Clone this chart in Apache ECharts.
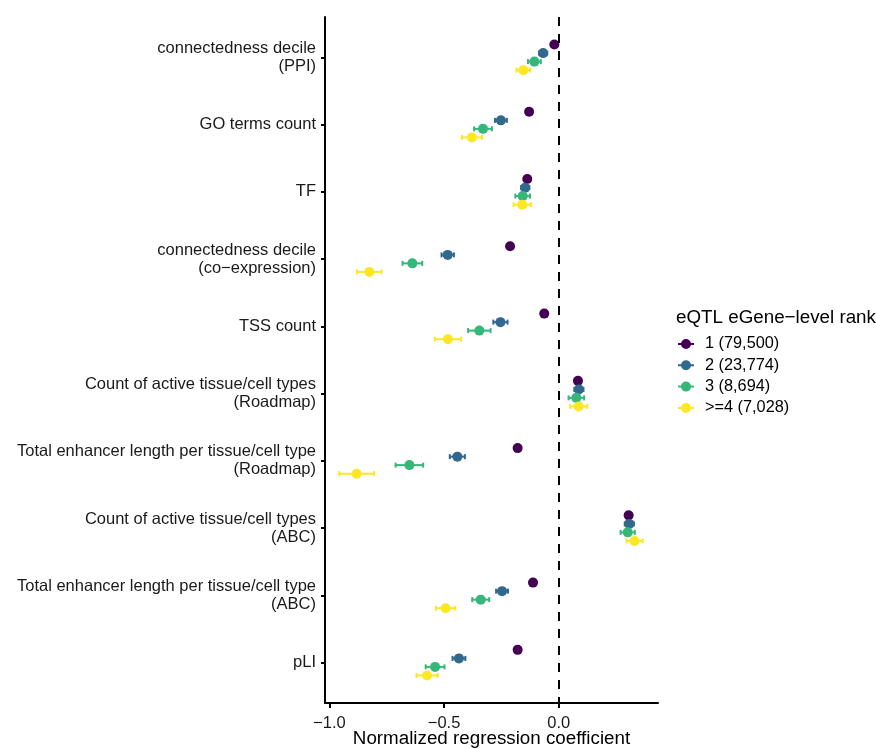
<!DOCTYPE html>
<html>
<head>
<meta charset="utf-8">
<script src="https://cdn.jsdelivr.net/npm/echarts@6/dist/echarts.min.js"></script>
<style>html,body{margin:0;padding:0;background:#fff}#c{width:876px;height:749px}</style>
</head>
<body>
<div id="c"></div>
<script>
// Categories (top to bottom)
var categories = [
  'connectedness decile\n(PPI)',
  'GO terms count',
  'TF',
  'connectedness decile\n(co\u2212expression)',
  'TSS count',
  'Count of active tissue/cell types\n(Roadmap)',
  'Total enhancer length per tissue/cell type\n(Roadmap)',
  'Count of active tissue/cell types\n(ABC)',
  'Total enhancer length per tissue/cell type\n(ABC)',
  'pLI'
];
var rankNames = ['1 (79,500)', '2 (23,774)', '3 (8,694)', '>=4 (7,028)'];
var rankColors = ['#440154', '#31688E', '#35B779', '#FDE725'];

// Coefficients (estimates) per rank
var coef_r1 = [-0.019, -0.129, -0.137, -0.212, -0.063, 0.084, -0.179, 0.305, -0.112, -0.179];
var coef_r2 = [-0.068, -0.252, -0.146, -0.484, -0.254, 0.088, -0.442, 0.308, -0.247, -0.435];
var coef_r3 = [-0.106, -0.330, -0.157, -0.638, -0.346, 0.077, -0.651, 0.301, -0.340, -0.539];
var coef_r4 = [-0.154, -0.378, -0.159, -0.826, -0.483, 0.087, -0.881, 0.331, -0.493, -0.574];
// Error half-widths (CI) per rank
var err_r1 = [0.008, 0.008, 0.008, 0.008, 0.008, 0.008, 0.008, 0.008, 0.008, 0.008];
var err_r2 = [0.018, 0.026, 0.018, 0.027, 0.031, 0.020, 0.033, 0.020, 0.026, 0.028];
var err_r3 = [0.028, 0.039, 0.032, 0.043, 0.049, 0.034, 0.060, 0.031, 0.037, 0.041];
var err_r4 = [0.030, 0.044, 0.038, 0.053, 0.057, 0.037, 0.076, 0.035, 0.042, 0.046];
var xTicks = [-1.0, -0.5, 0.0];

var coefs = [coef_r1, coef_r2, coef_r3, coef_r4];
var errs = [err_r1, err_r2, err_r3, err_r4];
var dodge = [-0.19, -0.063, 0.063, 0.19];
var FONT = 'Liberation Sans, Arial, Helvetica, sans-serif';

var series = [];
for (var s = 0; s < 4; s++) {
  var data = [];
  for (var i = 0; i < categories.length; i++) {
    var y = i + 1 + dodge[s];
    data.push([coefs[s][i], y, coefs[s][i] - errs[s][i], coefs[s][i] + errs[s][i]]);
  }
  (function (color) {
    series.push({
      type: 'custom',
      name: rankNames[s],
      data: data,
      z: 3,
      encode: { x: [0, 2, 3], y: 1 },
      renderItem: function (params, api) {
        var lo = api.coord([api.value(2), api.value(1)]);
        var hi = api.coord([api.value(3), api.value(1)]);
        var c = api.coord([api.value(0), api.value(1)]);
        var cap = 2.5;
        var st = { stroke: color, lineWidth: 2 };
        return {
          type: 'group',
          children: [
            { type: 'line', shape: { x1: lo[0], y1: lo[1], x2: hi[0], y2: hi[1] }, style: st },
            { type: 'line', shape: { x1: lo[0], y1: lo[1] - cap, x2: lo[0], y2: lo[1] + cap }, style: st },
            { type: 'line', shape: { x1: hi[0], y1: hi[1] - cap, x2: hi[0], y2: hi[1] + cap }, style: st },
            { type: 'circle', shape: { cx: c[0], cy: c[1], r: 5 }, style: { fill: color } }
          ]
        };
      },
      itemStyle: { color: color }
    });
  })(rankColors[s]);
}
// dashed zero line
series.push({
  type: 'line',
  data: [],
  markLine: {
    silent: true,
    symbol: 'none',
    label: { show: false },
    lineStyle: { color: '#000', type: [9, 8], width: 2 },
    data: [{ xAxis: 0 }]
  },
  z: 2
});

var icon = 'path://M0,4 L16,4 L16,6 L0,6 Z M8,0 A5,5 0 1,1 7.99,0 Z';

var option = {
  animation: false,
  backgroundColor: '#fff',
  title: {
    text: 'eQTL eGene\u2212level rank',
    left: 671, top: 303,
    textStyle: { fontFamily: FONT, fontSize: 18.8, fontWeight: 'normal', color: '#000' }
  },
  legend: {
    orient: 'vertical',
    left: 673, top: 331,
    itemWidth: 16, itemHeight: 10, itemGap: 5.3,
    data: rankNames.map(function (n) { return { name: n, icon: icon }; }),
    textStyle: { fontFamily: FONT, fontSize: 16.3, lineHeight: 14, color: '#000', padding: [0, 0, 0, 6] },
    selectedMode: false
  },
  grid: { left: 325, right: 218, top: 17, bottom: 46, outerBoundsMode: 'none', containLabel: false },
  xAxis: {
    type: 'value',
    min: -1.019, max: 0.433,
    name: 'Normalized regression coefficient',
    nameLocation: 'middle', nameGap: 26, nameMoveOverlap: false,
    nameTextStyle: { fontFamily: FONT, fontSize: 18.8, color: '#000', verticalAlign: 'top' },
    splitLine: { show: false },
    axisLine: { onZero: false, lineStyle: { color: '#000', width: 2 } },
    axisTick: { show: true, length: 5, lineStyle: { color: '#000', width: 2 }, customValues: xTicks },
    axisLabel: {
      customValues: xTicks,
      margin: 12,
      fontFamily: FONT, fontSize: 16.5, color: '#1a1a1a',
      formatter: function (v) { return (v < 0 ? '\u2212' : '') + Math.abs(v).toFixed(1); }
    }
  },
  yAxis: {
    type: 'value',
    inverse: true,
    min: 0.4, max: 10.6,
    splitLine: { show: false },
    axisLine: { show: true, onZero: false, lineStyle: { color: '#000', width: 2 } },
    axisTick: { show: true, length: 4, lineStyle: { color: '#000', width: 2 }, customValues: [1,2,3,4,5,6,7,8,9,10] },
    axisLabel: {
      customValues: [1,2,3,4,5,6,7,8,9,10],
      margin: 9,
      fontFamily: FONT, fontSize: 16.5, color: '#1a1a1a', lineHeight: 18,
      align: 'right',
      formatter: function (v) { return categories[Math.round(v) - 1] || ''; }
    }
  },
  series: series
};
var chart = echarts.init(document.getElementById('c'), null, { renderer: 'canvas' });
chart.setOption(option);
</script>
</body>
</html>
